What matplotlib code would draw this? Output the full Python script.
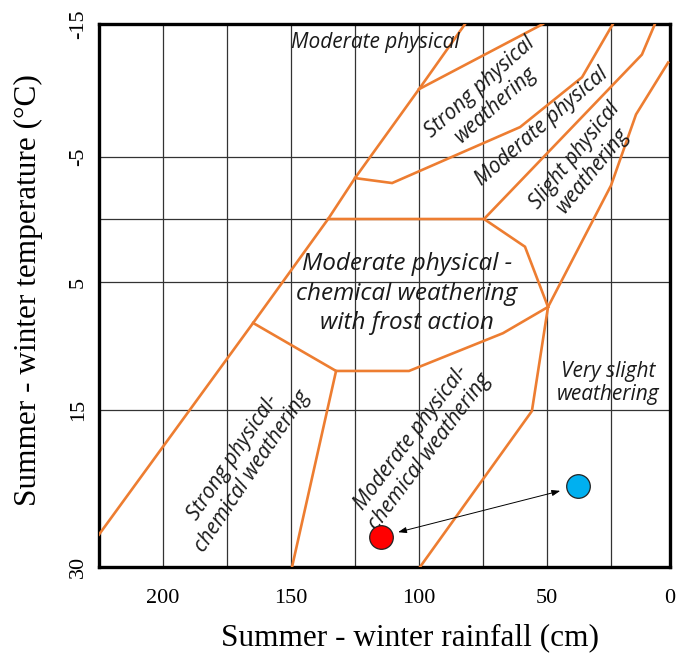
import numpy as np
import matplotlib
matplotlib.use("Agg")
import matplotlib.pyplot as plt

# ---------------- data ----------------
# Weathering-region boundaries: rainfall (cm) and temperature (°C)
outer_rain = [225, 164.8, 135.5, 125, 100, 82]
outer_temp = [26.9, 8.2, 0, -3.3, -10.1, -15]

strong_phys_rain = [100, 51.6]
strong_phys_temp = [-10.1, -15]

mod_phys_rain = [125, 110.5, 60.5, 36.3, 24.2]
mod_phys_temp = [-3.3, -2.9, -7.25, -11.0, -15]

slight_phys_rain = [74.6, 11.9, 6.4]
slight_phys_temp = [0, -12.7, -15]

very_slight_rain = [0.8, 14.4, 25, 49.6, 55.9, 99.6]
very_slight_temp = [-12.1, -8.2, -2.7, 6.95, 15.1, 30]

frost_top_rain = [135.5, 74.6, 58.6, 49.6]
frost_top_temp = [0, 0, 2.2, 6.95]

frost_bottom_rain = [49.6, 67.2, 103.9, 132.4, 164.8]
frost_bottom_temp = [6.95, 9.0, 11.95, 11.95, 8.2]

chem_div_rain = [132.4, 149.6]
chem_div_temp = [11.95, 30]

boundaries = [
    (outer_rain, outer_temp),
    (strong_phys_rain, strong_phys_temp),
    (mod_phys_rain, mod_phys_temp),
    (slight_phys_rain, slight_phys_temp),
    (very_slight_rain, very_slight_temp),
    (frost_top_rain, frost_top_temp),
    (frost_bottom_rain, frost_bottom_temp),
    (chem_div_rain, chem_div_temp),
]

# Sample points
red_point = (115, 27.1)
blue_point = (38, 22.3)

# Region labels: (text, rainfall, temperature, rotation)
region_labels = [
    ("Moderate physical", 117.2, -13.6, 0),
    ("Strong physical\nweathering", 73.0, -9.6, 42),
    ("Moderate physical", 52, -7.3, 41),
    ("Slight physical\nweathering", 35.5, -4.5, 51),
    ("Very slight\nweathering", 26.2, 12.9, 0),
    ("Strong physical-\nchemical weathering", 168.7, 20.2, 56),
    ("Moderate physical-\nchemical weathering", 99.5, 18.3, 53),
]
frost_label = ("Moderate physical -\nchemical weathering\nwith frost action", 104.7, 5.9)

x_ticks = [200, 150, 100, 50, 0]
x_minor = [175, 125, 75, 25]
y_ticks = [-15, -5, 5, 15, 30]
y_minor = [0]

# ---------------- non-uniform axis scales of the original diagram ----------------
def make_scale(nodes, pos):
    nodes = np.asarray(nodes, float)
    pos = np.asarray(pos, float)
    s0 = (pos[1] - pos[0]) / (nodes[1] - nodes[0])
    s1 = (pos[-1] - pos[-2]) / (nodes[-1] - nodes[-2])

    def fwd(v):
        v = np.asarray(v, float)
        out = np.interp(v, nodes, pos)
        out = np.where(v < nodes[0], pos[0] + (v - nodes[0]) * s0, out)
        out = np.where(v > nodes[-1], pos[-1] + (v - nodes[-1]) * s1, out)
        return out

    def inv(p):
        p = np.asarray(p, float)
        out = np.interp(p, pos, nodes)
        out = np.where(p < pos[0], nodes[0] + (p - pos[0]) / s0, out)
        out = np.where(p > pos[-1], nodes[-1] + (p - pos[-1]) / s1, out)
        return out
    return fwd, inv

y_fwd, y_inv = make_scale([-15, -5, 0, 5, 15, 30], [0, 133, 195, 258, 386, 543])
x_fwd, x_inv = make_scale([0, 25, 225], [0, 59, 571])

# ---------------- figure ----------------
fig = plt.figure(figsize=(6.77, 6.57), dpi=100)
ax = fig.add_axes([99 / 677, (657 - 567) / 657, (670 - 99) / 677, (567 - 24) / 657])
ax.set_xscale("function", functions=(x_fwd, x_inv))
ax.set_yscale("function", functions=(y_fwd, y_inv))
ax.set_xlim(225, 0)
ax.set_ylim(30, -15)

ax.set_xticks(x_ticks)
ax.set_xticks(x_minor, minor=True)
ax.set_yticks(y_ticks)
ax.set_yticks(y_minor, minor=True)
ax.set_xticklabels([str(v) for v in x_ticks])
ax.set_yticklabels([str(v) for v in y_ticks], rotation=90, va="center")
ax.tick_params(which="both", length=0)
ax.tick_params(axis="x", pad=16, labelsize=16)
ax.tick_params(axis="y", pad=8, labelsize=16)
for lab in ax.get_xticklabels() + ax.get_yticklabels():
    lab.set_family("Liberation Serif")

ax.grid(True, which="both", color="#333333", linewidth=0.9)
for sp in ax.spines.values():
    sp.set_linewidth(2.4)
    sp.set_color("black")

orange = "#ED7D31"
for rain, temp in boundaries:
    ax.plot(rain, temp, color=orange, linewidth=1.9, solid_joinstyle="miter", zorder=3)

lab_font = dict(family="Open Sans", style="italic", color="#1a1a1a")
for text, r, t, rot in region_labels:
    ax.text(r, t, text, rotation=rot, ha="center", va="center", fontsize=15,
            rotation_mode="anchor", linespacing=1.15, zorder=4, **lab_font)
ax.text(frost_label[1], frost_label[2], frost_label[0], ha="center", va="center",
        fontsize=17.5, linespacing=1.3, zorder=4, **lab_font)

# arrow between the samples
ax.annotate("", xy=blue_point, xytext=red_point,
            arrowprops=dict(arrowstyle="<|-|>,head_length=0.5,head_width=0.18",
                            color="black", lw=0.7, shrinkA=13, shrinkB=13),
            zorder=5)
ax.plot(*red_point, "o", markersize=17, markerfacecolor="#FF0000",
        markeredgecolor="#222222", markeredgewidth=0.9, zorder=6)
ax.plot(*blue_point, "o", markersize=17, markerfacecolor="#00B0F0",
        markeredgecolor="#222222", markeredgewidth=0.9, zorder=6)

ax.set_xlabel("Summer - winter rainfall (cm)", family="Liberation Serif",
              fontsize=22.5)
ax.set_ylabel("Summer - winter temperature (\u00b0C)", family="Liberation Serif",
              fontsize=22.5)
ax.xaxis.set_label_coords(0.545, -0.103)
ax.yaxis.set_label_coords(-0.098, 0.51)

fig.savefig("out.png", dpi=100)
